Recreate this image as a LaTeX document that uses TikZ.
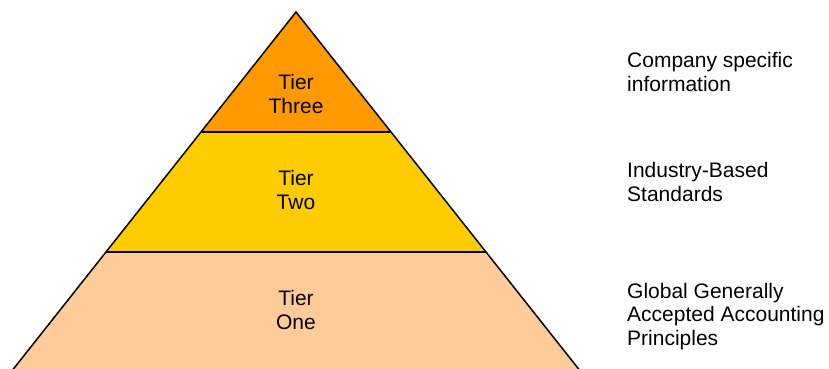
\documentclass[tikz,border=0pt]{standalone}
\usepackage{fontspec}
\setmainfont{Liberation Sans}
\definecolor{tierthree}{HTML}{FF9900}
\definecolor{tiertwo}{HTML}{FFCC00}
\definecolor{tierone}{HTML}{FFCC99}
\begin{document}
\begin{tikzpicture}[x=1pt,y=-1pt,
  tierlabel/.style={align=center,font=\fontsize{21}{23.5}\selectfont,inner sep=0pt},
  sidelabel/.style={align=left,anchor=west,font=\fontsize{21}{23.5}\selectfont,inner sep=0pt},
  edge/.style={draw=black,line width=1.5pt}]
\useasboundingbox (0,0) rectangle (829,369);
\begin{scope}
\clip (0,0) rectangle (829,369);
\coordinate (apex) at (296,12);
\coordinate (l1) at (202,132);
\coordinate (r1) at (390,132);
\coordinate (l2) at (106,252);
\coordinate (r2) at (486,252);
\coordinate (l3) at (11,372);
\coordinate (r3) at (581,372);
\fill[tierthree] (apex) -- (r1) -- (l1) -- cycle;
\fill[tiertwo] (l1) -- (r1) -- (r2) -- (l2) -- cycle;
\fill[tierone] (l2) -- (r2) -- (r3) -- (l3) -- cycle;
\draw[edge,line join=miter] (l3) -- (apex) -- (r3);
\draw[edge] (l1) -- (r1);
\draw[edge] (l2) -- (r2);
\end{scope}
\node[tierlabel] (t3) at (296,94.2) {Tier\\Three};
\node[tierlabel] (t2) at (296,190.2) {Tier\\Two};
\node[tierlabel] (t1) at (296,310.2) {Tier\\One};
\node[sidelabel] (s3) at (627,72.2) {Company specific\\information};
\node[sidelabel] (s2) at (627,182.1) {Industry-Based\\Standards};
\node[sidelabel] (s1) at (627,316.1) {Global Generally\\Accepted Accounting\\Principles};
\end{tikzpicture}
\end{document}
